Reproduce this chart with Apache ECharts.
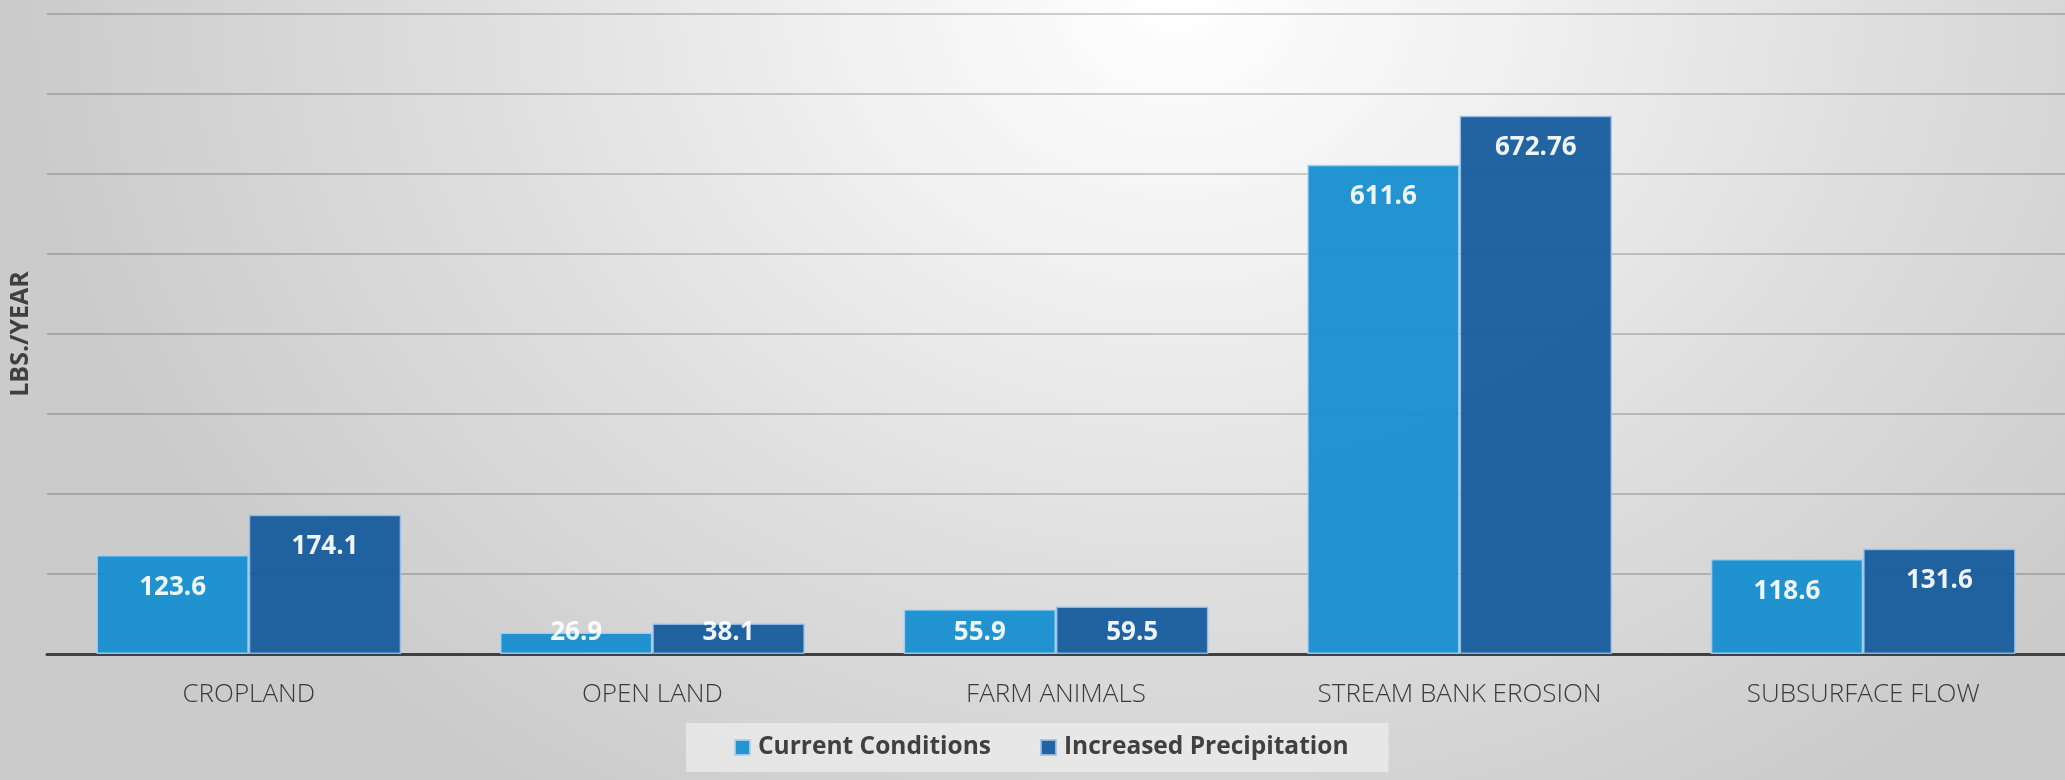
<!DOCTYPE html>
<html>
<head>
<meta charset="utf-8">
<script src="https://cdn.jsdelivr.net/npm/echarts@6/dist/echarts.min.js"></script>
<style>
  html, body { margin: 0; padding: 0; }
  #chart {
    width: 2065px;
    height: 780px;
    background: radial-gradient(ellipse 1150px 950px at 57% 0%, #ffffff 0%, #f0f0f0 30%, #dedede 62%, #cbcbcb 100%);
  }
</style>
</head>
<body>
<div id="chart"></div>
<script>
// Pollutant load by source, in lbs./year
const categories = ['CROPLAND', 'OPEN LAND', 'FARM ANIMALS', 'STREAM BANK EROSION', 'SUBSURFACE FLOW'];
const currentConditions = [123.6, 26.9, 55.9, 611.6, 118.6];
const increasedPrecipitation = [174.1, 38.1, 59.5, 672.76, 131.6];
const seriesNames = ['Current Conditions', 'Increased Precipitation'];
const axisName = 'LBS./YEAR';

const FONT = '"Open Sans", "Noto Sans", sans-serif';

// Short bars cannot hold their label inside the top edge, so it sits at the base instead
function barData(values) {
  return values.map(function (v) {
    const small = v < 65;
    return {
      value: v,
      label: small
        ? { position: 'insideBottom', distance: 8 }
        : { position: 'insideTop', distance: 19 }
    };
  });
}

const labelStyle = {
  show: true,
  color: '#ffffff',
  fontFamily: FONT,
  fontWeight: 'bold',
  fontSize: 26
};

const chart = echarts.init(document.getElementById('chart'), null, { renderer: 'canvas' });

chart.setOption({
  backgroundColor: 'transparent',
  animation: false,
  grid: { left: 45, right: 0, top: 14, bottom: 126, containLabel: false },
  legend: {
    data: seriesNames,
    left: 686,
    top: 723,
    icon: 'rect',
    itemWidth: 15,
    itemHeight: 15,
    itemGap: 49,
    padding: [12, 40, 12, 48],
    backgroundColor: 'rgba(245,245,245,0.55)',
    textStyle: {
      color: '#404040',
      fontFamily: FONT,
      fontWeight: 'bold',
      fontSize: 24.5,
      padding: [0, 0, 0, 3]
    }
  },
  xAxis: {
    type: 'category',
    data: categories,
    axisLine: { show: true, lineStyle: { color: '#404040', width: 3 } },
    axisTick: { show: false },
    axisLabel: {
      color: '#3a3a3a',
      fontFamily: FONT,
      fontWeight: 300,
      fontSize: 26,
      margin: 28
    }
  },
  yAxis: {
    type: 'value',
    min: 0,
    max: 800,
    interval: 100,
    name: axisName,
    nameLocation: 'middle',
    nameRotate: 90,
    nameGap: 14,
    nameTextStyle: {
      color: '#404040',
      fontFamily: FONT,
      fontWeight: 'bold',
      fontSize: 25
    },
    axisLine: { show: false },
    axisTick: { show: false },
    axisLabel: { show: false },
    splitLine: { show: true, lineStyle: { color: 'rgba(0,0,0,0.18)', width: 2 } }
  },
  series: [
    {
      name: seriesNames[0],
      type: 'bar',
      data: barData(currentConditions),
      barGap: '0%',
      barCategoryGap: '24.5%',
      itemStyle: {
        color: '#138DD0',
        opacity: 0.93,
        borderColor: 'rgba(165,210,245,0.95)',
        borderWidth: 1.5
      },
      label: labelStyle
    },
    {
      name: seriesNames[1],
      type: 'bar',
      data: barData(increasedPrecipitation),
      barGap: '0%',
      barCategoryGap: '24.5%',
      itemStyle: {
        color: '#12589B',
        opacity: 0.93,
        borderColor: 'rgba(150,195,240,0.9)',
        borderWidth: 1.5
      },
      label: labelStyle
    }
  ]
});
</script>
</body>
</html>
